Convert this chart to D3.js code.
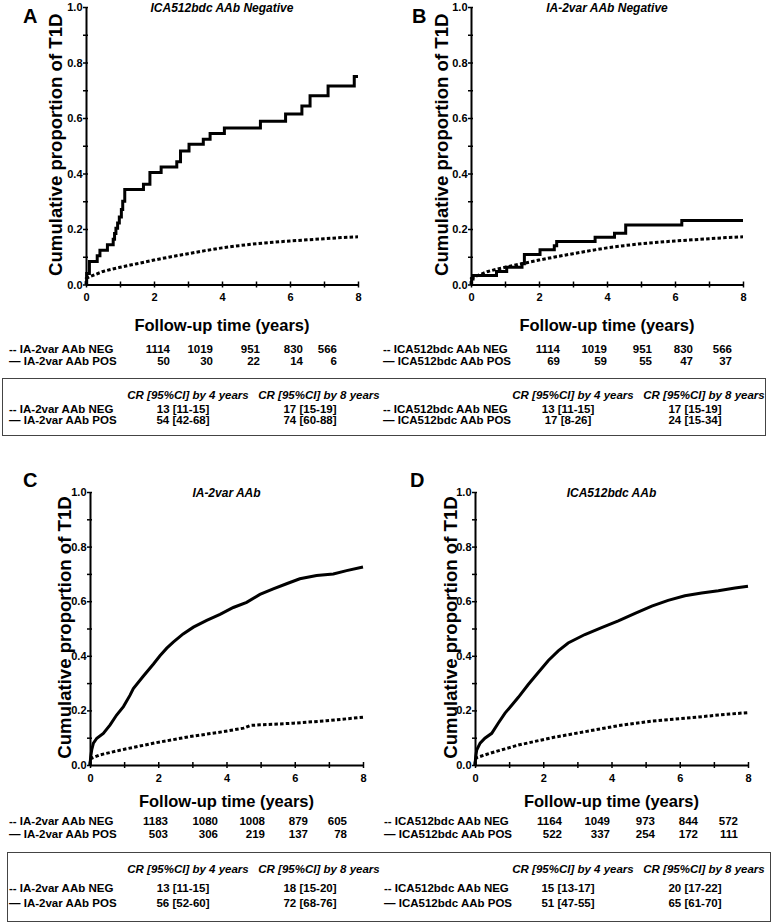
<!DOCTYPE html>
<html><head><meta charset="utf-8">
<script src="https://cdn.jsdelivr.net/npm/d3@7"></script>
<style>
body{margin:0;background:#fff}
svg{display:block}
text{font-family:"Liberation Sans",Arial,sans-serif;font-weight:bold;fill:#000}
</style>
</head><body>
<svg id="c" width="773" height="923"></svg>
<script>
// ---------- DATA ----------
const timeTicks = [0, 2, 4, 6, 8];
const propTicks = [0, 0.2, 0.4, 0.6, 0.8, 1.0];
const xLabel = "Follow-up time (years)";
const yLabel = "Cumulative proportion of T1D";
const crHeaders = ["CR [95%CI] by 4 years", "CR [95%CI] by 8 years"];

// Panel A
const aLetter = "A";
const aTitle = "ICA512bdc AAb Negative";
const aSolid = [[0,0],[0.02,0.04],[0.1,0.083],[0.33,0.104],[0.41,0.123],[0.63,0.143],[0.8,0.163],[0.84,0.184],[0.88,0.203],[0.93,0.222],[0.98,0.243],[1.04,0.27],[1.08,0.30],[1.14,0.342],[1.69,0.361],[1.88,0.404],[2.21,0.423],[2.67,0.442],[2.78,0.481],[3.03,0.505],[3.45,0.523],[3.65,0.544],[4.07,0.564],[5.13,0.588],[5.87,0.614],[6.35,0.643],[6.59,0.68],[7.12,0.715],[7.89,0.75],[8.0,0.75]];
const aDotted = [[0,0],[0.01,0.022],[0.1,0.028],[0.25,0.035],[0.5,0.047],[0.75,0.055],[1,0.062],[1.5,0.075],[2,0.088],[2.5,0.1],[3,0.111],[3.5,0.122],[4,0.132],[4.5,0.14],[5,0.147],[5.5,0.152],[6,0.157],[6.5,0.161],[7,0.165],[7.5,0.169],[8,0.172]];
const aRows = ["-- IA-2var AAb NEG", "\u2014 IA-2var AAb POS"];
const aRiskNeg = [1114, 1019, 951, 830, 566];
const aRiskPos = [50, 30, 22, 14, 6];
const aCR4 = ["13 [11-15]", "54 [42-68]"];
const aCR8 = ["17 [15-19]", "74 [60-88]"];

// Panel B
const bLetter = "B";
const bTitle = "IA-2var AAb Negative";
const bSolid = [[0,0],[0.02,0.02],[0.06,0.032],[0.75,0.047],[1.05,0.062],[1.5,0.075],[1.57,0.108],[2.03,0.125],[2.45,0.14],[2.52,0.155],[3.65,0.17],[4.22,0.185],[4.55,0.214],[6.2,0.231],[8,0.231]];
const bDotted = [[0,0],[0.01,0.022],[0.1,0.028],[0.25,0.035],[0.5,0.047],[0.75,0.055],[1,0.062],[1.5,0.075],[2,0.088],[2.5,0.1],[3,0.111],[3.5,0.122],[4,0.132],[4.5,0.14],[5,0.147],[5.5,0.152],[6,0.157],[6.5,0.161],[7,0.165],[7.5,0.169],[8,0.172]];
const bRows = ["-- ICA512bdc AAb NEG", "\u2014 ICA512bdc AAb POS"];
const bRiskNeg = [1114, 1019, 951, 830, 566];
const bRiskPos = [69, 59, 55, 47, 37];
const bCR4 = ["13 [11-15]", "17 [8-26]"];
const bCR8 = ["17 [15-19]", "24 [15-34]"];

// Panel C
const cLetter = "C";
const cTitle = "IA-2var AAb";
const cSolid = [[0,0],[0.02,0.03],[0.05,0.055],[0.1,0.08],[0.2,0.098],[0.39,0.116],[0.59,0.147],[0.78,0.183],[0.98,0.214],[1.17,0.255],[1.27,0.28],[1.56,0.325],[1.86,0.37],[2.05,0.40],[2.25,0.428],[2.44,0.45],[2.73,0.48],[3.03,0.505],[3.42,0.53],[3.81,0.552],[4.2,0.577],[4.59,0.596],[4.98,0.625],[5.37,0.645],[5.76,0.664],[6.15,0.682],[6.64,0.694],[7.13,0.70],[7.52,0.712],[8,0.725]];
const cDotted = [[0,0],[0.01,0.02],[0.05,0.025],[0.29,0.037],[0.98,0.057],[1.95,0.082],[2.93,0.104],[3.9,0.122],[4.5,0.135],[4.7,0.145],[4.98,0.147],[5.96,0.153],[6.93,0.162],[8,0.175]];
const cRows = ["-- IA-2var AAb NEG", "\u2014 IA-2var AAb POS"];
const cRiskNeg = [1183, 1080, 1008, 879, 605];
const cRiskPos = [503, 306, 219, 137, 78];
const cCR4 = ["13 [11-15]", "56 [52-60]"];
const cCR8 = ["18 [15-20]", "72 [68-76]"];

// Panel D
const dLetter = "D";
const dTitle = "ICA512bdc AAb";
const dSolid = [[0,0],[0.02,0.03],[0.05,0.055],[0.15,0.08],[0.29,0.098],[0.49,0.116],[0.68,0.153],[0.88,0.19],[1.07,0.218],[1.27,0.248],[1.56,0.295],[1.86,0.34],[2.15,0.383],[2.44,0.418],[2.73,0.447],[3.22,0.478],[3.71,0.503],[4.2,0.528],[4.69,0.555],[5.18,0.582],[5.66,0.603],[6.15,0.62],[6.64,0.63],[7.13,0.638],[7.62,0.648],[8,0.655]];
const dDotted = [[0,0],[0.01,0.02],[0.05,0.027],[0.49,0.045],[1.27,0.073],[2.25,0.1],[3.22,0.122],[4.2,0.144],[5.18,0.161],[6.15,0.171],[7.13,0.183],[8,0.192]];
const dRows = ["-- ICA512bdc AAb NEG", "\u2014 ICA512bdc AAb POS"];
const dRiskNeg = [1164, 1049, 973, 844, 572];
const dRiskPos = [522, 337, 254, 172, 111];
const dCR4 = ["15 [13-17]", "51 [47-55]"];
const dCR8 = ["20 [17-22]", "65 [61-70]"];

// ---------- LAYOUT ----------
const layouts = [
  {ox:0,   x0:86,  x1:358, yt:7,   yb:284.5, step:true,  letterX:23,  letterY:23,  titleY:11.5, ytX:62,  xlY:331, riskY:[353,365], riskCols:[170,213,260,303,337], rowX:9,   box:{x:2,y:378,w:763,h:57}, crY:[398.5,413,424]},
  {ox:385, x0:471, x1:743, yt:7,   yb:284.5, step:true,  letterX:412, letterY:23,  titleY:11.5, ytX:448, xlY:331, riskY:[353,365], riskCols:[175,222,267,308,347], rowX:383, box:null, crY:[398.5,413,424]},
  {ox:0,   x0:90,  x1:363, yt:492, yb:765,   step:false, letterX:23,  letterY:487, titleY:496.5, ytX:71, xlY:807, riskY:[825,838], riskCols:[168,218,265,308,347], rowX:9,   box:{x:7,y:852,w:763,h:69}, crY:[873,891.5,906.5]},
  {ox:385, x0:475, x1:748, yt:492, yb:765,   step:false, letterX:410, letterY:487, titleY:496.5, ytX:457, xlY:807, riskY:[825,838], riskCols:[177,225,270,313,353], rowX:384, box:null, crY:[873,891.5,906.5]}
];
const panels = [
  {letter:aLetter, title:aTitle, solid:aSolid, dotted:aDotted, rows:aRows, neg:aRiskNeg, pos:aRiskPos, cr4:aCR4, cr8:aCR8},
  {letter:bLetter, title:bTitle, solid:bSolid, dotted:bDotted, rows:bRows, neg:bRiskNeg, pos:bRiskPos, cr4:bCR4, cr8:bCR8},
  {letter:cLetter, title:cTitle, solid:cSolid, dotted:cDotted, rows:cRows, neg:cRiskNeg, pos:cRiskPos, cr4:cCR4, cr8:cCR8},
  {letter:dLetter, title:dTitle, solid:dSolid, dotted:dDotted, rows:dRows, neg:dRiskNeg, pos:dRiskPos, cr4:dCR4, cr8:dCR8}
];

const svg = d3.select("#c");
const fmt = d3.format(".1f");

panels.forEach((p, i) => {
  const L = layouts[i];
  const g = svg.append("g");
  const x = d3.scaleLinear().domain([0, 8]).range([L.x0, L.x1]);
  const y = d3.scaleLinear().domain([0, 1]).range([L.yb, L.yt]);

  // x axis (major + minor ticks)
  const xAll = d3.range(0, 9);
  const xa = g.append("g").attr("transform", `translate(0,${L.yb})`)
    .call(d3.axisBottom(x).tickValues(xAll).tickSizeOuter(0).tickSizeInner(3)
      .tickFormat(d => timeTicks.includes(d) ? d : ""));
  xa.select(".domain").attr("stroke-width", 2).attr("stroke", "#000");
  xa.selectAll(".tick line").attr("y1", -3).attr("y2", 3).attr("stroke-width", 1.5);
  xa.selectAll(".tick text").attr("y", 9).attr("font-size", 11).attr("font-weight", "bold")
    .attr("font-family", '"Liberation Sans",Arial,sans-serif');

  // y axis
  const yAll = d3.range(0, 11).map(k => k / 10);
  const ya = g.append("g").attr("transform", `translate(${L.x0},0)`)
    .call(d3.axisLeft(y).tickValues(yAll).tickSizeOuter(0).tickSizeInner(4).tickPadding(0)
      .tickFormat(d => propTicks.some(t => Math.abs(t - d) < 1e-9) ? fmt(d) : ""));
  ya.select(".domain").attr("stroke-width", 2).attr("stroke", "#000");
  ya.selectAll(".tick line").attr("x1", -3).attr("x2", 2).attr("stroke-width", 1.5);
  ya.selectAll(".tick text").attr("x", -3.5).attr("font-size", 11).attr("font-weight", "bold")
    .attr("font-family", '"Liberation Sans",Arial,sans-serif');

  // curves
  const lineStep = d3.line().x(d => x(d[0])).y(d => y(d[1])).curve(d3.curveStepAfter);
  const lineLin = d3.line().x(d => x(d[0])).y(d => y(d[1])).curve(d3.curveLinear);
  g.append("path").datum(p.dotted).attr("d", lineLin)
    .attr("fill", "none").attr("stroke", "#000").attr("stroke-width", 3)
    .attr("stroke-dasharray", "3.5,2.2");
  g.append("path").datum(p.solid).attr("d", L.step ? lineStep : lineLin)
    .attr("fill", "none").attr("stroke", "#000").attr("stroke-width", 3)
    .attr("stroke-linejoin", "miter");

  // letter, title
  g.append("text").attr("x", L.letterX).attr("y", L.letterY).attr("font-size", 20).text(p.letter);
  g.append("text").attr("x", (L.x0 + L.x1) / 2).attr("y", L.titleY).attr("text-anchor", "middle")
    .attr("font-size", 12).attr("font-style", "italic").text(p.title);

  // y label
  const yMid = (L.yt + L.yb) / 2 - 1;
  g.append("text").attr("transform", `translate(${L.ytX},${yMid}) rotate(-90)`)
    .attr("text-anchor", "middle").attr("font-size", 18.6).text(yLabel);

  // x label
  g.append("text").attr("x", (L.x0 + L.x1) / 2).attr("y", L.xlY).attr("text-anchor", "middle")
    .attr("font-size", 16.5).text(xLabel);

  // at-risk table
  [p.neg, p.pos].forEach((vals, r) => {
    g.append("text").attr("x", L.rowX).attr("y", L.riskY[r]).attr("font-size", 11.5).text(p.rows[r]);
    g.selectAll(null).data(vals).enter().append("text")
      .attr("x", (d, k) => L.ox + L.riskCols[k]).attr("y", L.riskY[r])
      .attr("text-anchor", "end").attr("font-size", 11.5).text(d => d);
  });

  // CR box
  if (L.box) {
    svg.append("rect").attr("x", L.box.x + 0.5).attr("y", L.box.y + 0.5)
      .attr("width", L.box.w).attr("height", L.box.h)
      .attr("fill", "none").attr("stroke", "#444").attr("stroke-width", 1);
  }
  [188, 319].forEach((cx, k) => {
    g.append("text").attr("x", L.ox + cx).attr("y", L.crY[0]).attr("text-anchor", "middle")
      .attr("font-size", 11.5).attr("font-style", "italic").text(crHeaders[k]);
  });
  [0, 1].forEach(r => {
    g.append("text").attr("x", L.rowX).attr("y", L.crY[r + 1]).attr("font-size", 11.5).text(p.rows[r]);
    g.append("text").attr("x", L.ox + 183).attr("y", L.crY[r + 1]).attr("text-anchor", "middle")
      .attr("font-size", 11.5).text(p.cr4[r]);
    g.append("text").attr("x", L.ox + 310).attr("y", L.crY[r + 1]).attr("text-anchor", "middle")
      .attr("font-size", 11.5).text(p.cr8[r]);
  });
});
</script>
</body></html>
